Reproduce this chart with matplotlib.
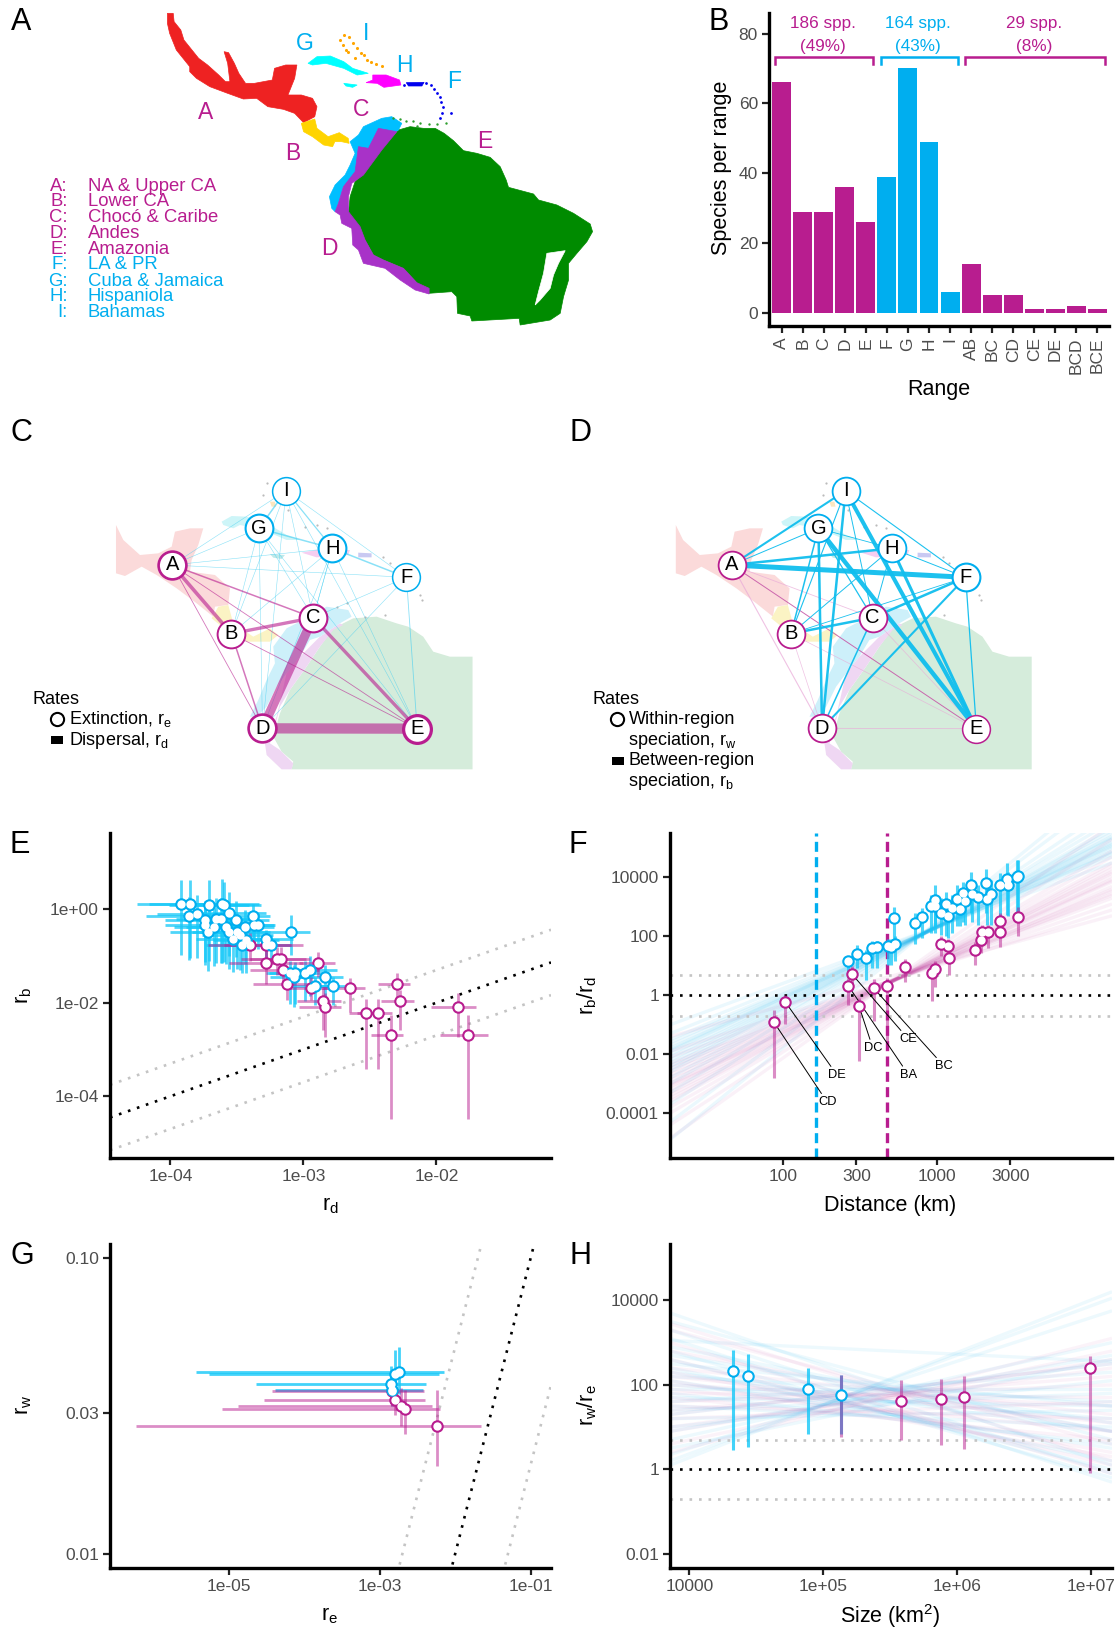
import numpy as np
import matplotlib
matplotlib.use('Agg')
import matplotlib.pyplot as plt
from matplotlib.patches import Polygon, Rectangle
from matplotlib.ticker import NullLocator

plt.rcParams['font.family'] = ['Liberation Sans', 'DejaVu Sans']
plt.rcParams['mathtext.fontset'] = 'custom'
plt.rcParams['mathtext.rm'] = 'Liberation Sans'
plt.rcParams['mathtext.it'] = 'Liberation Sans:italic'
plt.rcParams['mathtext.default'] = 'rm'

W, H = 1119, 1628
MAG = '#B81D8F'
BLU = '#00AEEF'
ERR_BLU = '#14C8F8'
TICK = '#4D4D4D'
GREY = '#C4C4C4'
DOTTED = (0, (1, 2.6))

# ---- panel A: region legend
region_keys = ['A:', 'B:', 'C:', 'D:', 'E:', 'F:', 'G:', 'H:', 'I:']
region_names = ['NA & Upper CA', 'Lower CA', 'Chocó & Caribe', 'Andes', 'Amazonia',
                'LA & PR', 'Cuba & Jamaica', 'Hispaniola', 'Bahamas']

# ---- panel A: map outlines (picture units)
map_red = [(375,40),(388,40),(390,65),(405,90),(412,120),(430,150),(445,175),(465,195),(490,225),(505,245),
           (515,245),(510,190),(502,155),(512,158),(525,190),(535,220),(550,250),(570,250),(610,240),(615,205),
           (640,195),(665,195),(660,235),(645,285),(675,285),(700,295),(710,320),(705,350),(680,368),(660,340),
           (635,328),(600,320),(575,295),(545,297),(510,280),(470,260),(440,235),(425,215),(425,200),(395,150),
           (380,100),(375,70)]
map_yellow = [(675,370),(705,357),(710,385),(735,410),(760,398),(780,415),(782,430),(765,425),(750,425),
              (745,440),(725,435),(700,410),(680,395)]
map_cuba = [(690,190),(710,170),(740,168),(770,185),(790,205),(825,220),(800,225),(770,205),(730,190),(700,195)]
map_jamaica = [(770,250),(800,255),(790,262),(775,258)]
map_hisp = [(820,248),(835,240),(835,225),(865,225),(895,240),(898,255),(860,262),(845,250)]
map_pr = [(910,248),(950,247),(945,258),(915,258)]
map_bahamas_x = [770,762,768,775,782,790,800,808,815,822,830,842,855,780,795]
map_bahamas_y = [105,120,135,150,110,130,145,158,165,180,185,192,198,155,175]
map_antilles_x = [965,972,980,985,988,992,990,985,1010,905,955]
map_antilles_y = [255,268,280,290,305,320,340,355,340,255,250]
map_coast_x = [880,895,910,925,940,960,980,998,935]
map_coast_y = [355,358,362,362,368,372,372,370,378]

sa_green = [(235,90),(270,80),(310,85),(345,85),(372,100),(400,122),(430,152),(470,160),(510,172),(540,200),
            (558,240),(565,262),(640,282),(655,300),(710,315),(760,340),(810,372),(817,395),(800,425),(770,460),
            (745,490),(745,540),(730,590),(720,640),(690,660),(600,675),(597,655),(455,663),(450,648),(412,640),
            (410,590),(395,575),(325,580),(290,548),(250,505),(190,480),(160,465),(135,420),(120,385),(85,340),
            (90,290),(105,245),(150,190),(190,140)]
sa_purple = [(230,95),(185,150),(130,225),(95,250),(85,290),(85,335),(120,380),(135,420),(160,465),(190,480),
             (250,505),(290,548),(327,565),(327,582),(285,570),(240,540),(195,505),(130,490),(115,450),(98,435),
             (95,385),(65,370),(60,345),(45,335),(55,310),(70,260),(105,215),(115,140),(145,145),(175,85)]
sa_blue = [(90,125),(115,105),(130,80),(185,55),(215,50),(245,70),(235,90),(175,130),(150,170),(130,205),
           (100,235),(70,260),(55,310),(45,335),(35,325),(28,290),(45,255),(75,225),(90,195),(105,160)]
sa_hole = [(680,460),(735,452),(715,490),(700,525),(690,565),(660,600),(645,615),(655,575),(670,520)]

# ---- panel B
range_names = ['A', 'B', 'C', 'D', 'E', 'F', 'G', 'H', 'I', 'AB', 'BC', 'CD', 'CE', 'DE', 'BCD', 'BCE']
species_per_range = [66, 29, 29, 36, 26, 39, 70, 49, 6, 14, 5, 5, 1, 1, 2, 1]
range_is_blue = [0, 0, 0, 0, 0, 1, 1, 1, 1, 0, 0, 0, 0, 0, 0, 0]
group_counts = ['186 spp.', '164 spp.', '29 spp.']
group_shares = ['(49%)', '(43%)', '(8%)']

# ---- panels C, D: network
node_names = ['A', 'B', 'C', 'D', 'E', 'F', 'G', 'H', 'I']
node_x = [482, 648, 877, 735, 1168, 1138, 725, 931, 801]
node_y = [315, 521, 473, 805, 806, 352, 205, 265, 92]
node_colour_c = [MAG, MAG, MAG, MAG, MAG, BLU, BLU, BLU, BLU]
node_border_c = [1.9, 1.4, 1.5, 1.9, 2.3, 1.1, 1.5, 1.5, 1.1]
node_colour_d = [MAG, MAG, MAG, MAG, MAG, BLU, BLU, BLU, BLU]
node_border_d = [1.3, 1.3, 1.3, 1.3, 1.1, 1.5, 1.3, 1.3, 1.3]
edges_c_mag = [('D','E',7.4),('C','D',6.6),('A','B',2.6),('B','C',2.4),('C','E',2.4),('A','C',1.1),
               ('B','D',1.1),('A','D',0.6),('A','E',0.6),('B','E',0.6)]
edges_c_blu = [('G','I',1.1),('G','H',1.1),('H','I',0.9),('H','F',1.1),('A','I',0.4),('A','G',0.4),('A','H',0.4),
               ('A','F',0.4),('B','G',0.4),('B','I',0.4),('B','H',0.4),('C','F',0.4),('C','G',0.4),('C','H',0.4),
               ('C','I',0.4),('D','F',0.4),('D','G',0.4),('D','H',0.4),('D','I',0.4),('E','F',0.6),('E','G',0.4),
               ('E','H',0.4),('E','I',0.4),('F','I',0.4),('C','H',0.4)]
edges_d_mag = [('A','E',0.7)]
edges_d_pale = [('A','D',0.8),('A','C',0.6),('B','D',0.5),('D','E',0.6),('C','E',0.5),('B','E',0.5)]
edges_d_blu = [('A','F',3.6),('A','H',1.8),('A','I',1.5),('A','G',0.7),('E','I',2.9),('E','G',3.2),('E','H',2.2),
               ('D','I',1.8),('D','G',1.8),('B','G',1.1),('B','I',0.8),('B','C',1.8),('C','F',1.8),('B','H',0.7),
               ('D','F',1.5),('C','D',1.1),('E','F',0.9),('F','I',0.8),('C','G',0.9),('C','I',0.7),('C','H',0.7),
               ('F','H',0.7),('G','H',0.6),('B','F',0.6)]

bg_pink = [(48,195),(70,240),(120,285),(175,280),(215,260),(225,215),(270,205),(310,205),(295,255),(275,300),
           (270,335),(345,345),(390,385),(385,435),(345,440),(340,470),(290,430),(230,385),(170,345),(125,320),
           (75,348),(48,340)]
bg_yellow = [(335,475),(355,440),(385,435),(400,490),(460,530),(510,505),(535,525),(510,545),(440,545),(420,520),(360,495)]
bg_blue = [(520,560),(560,505),(610,480),(680,440),(745,450),(755,470),(720,490),(660,530),(630,540),(600,590),
           (560,640),(530,680),(500,740),(470,770),(450,770),(475,720),(500,660),(525,610)]
bg_purple = [(660,530),(720,490),(730,495),(700,510),(660,560),(620,620),(570,690),(540,740),(525,800),(510,850),
             (540,870),(580,910),(575,928),(545,928),(500,885),(495,850),(530,770),(560,640),(600,590)]
bg_green = [(700,505),(760,475),(830,470),(890,490),(925,500),(970,530),(1000,575),(1050,590),(1118,590),(1118,928),
            (575,928),(580,905),(545,875),(520,830),(540,760),(570,690),(620,620),(660,560)]
bg_cuba = [(365,185),(395,168),(440,170),(510,195),(560,225),(600,240),(560,240),(525,225),(470,205),(420,195),(400,205),(370,195)]
bg_jamaica = [(510,282),(555,285),(545,297),(520,293)]
bg_hisp = [(605,278),(650,270),(750,270),(745,285),(650,292)]
bg_pr = [(775,278),(815,280),(815,292),(775,292)]
bg_baha = [(510,125),(525,125),(528,140),(515,140)]
bg_specks_x = [500,490,565,615,650,680,850,870,905,960,965,855,795,710,740]
bg_specks_y = [70,105,150,200,195,205,290,310,345,405,420,465,470,440,430]

# ---- panel E (log10 rates)
e_mag_x = [-3.40,-3.28,-3.28,-3.20,-3.165,-3.15,-3.12,-2.89,-2.945,-2.85,-2.84,-2.65,-2.53,-2.44,-2.34,-2.295,-2.27,-1.84,-1.765]
e_mag_y = [-0.76,-0.76,-1.16,-1.07,-1.07,-1.30,-1.60,-1.16,-1.69,-1.96,-2.09,-1.69,-2.21,-2.21,-2.70,-1.60,-1.96,-2.09,-2.70]
e_mag_xlo = [-3.72,-3.60,-3.56,-3.47,-3.40,-3.40,-3.38,-3.03,-3.13,-3.05,-3.03,-2.86,-2.66,-2.60,-2.49,-2.44,-2.42,-2.04,-1.97]
e_mag_xhi = [-3.09,-3.00,-3.00,-2.98,-2.95,-2.88,-2.87,-2.76,-2.76,-2.72,-2.72,-2.54,-2.39,-2.33,-2.25,-2.20,-2.17,-1.70,-1.61]
e_mag_ylo = [-1.10,-1.20,-1.60,-1.40,-1.40,-1.60,-1.94,-1.44,-1.94,-2.59,-2.73,-2.19,-3.41,-3.41,-4.48,-1.98,-2.59,-2.73,-4.48]
e_mag_yhi = [-0.50,-0.50,-0.80,-0.80,-0.80,-1.10,-1.30,-0.91,-1.44,-1.69,-1.80,-1.48,-1.91,-1.91,-2.26,-1.37,-1.73,-1.80,-2.26]

e_blu_x = [-3.92,-3.85,-3.86,-3.80,-3.71,-3.61,-3.60,-3.74,-3.74,-3.72,-3.66,-3.62,-3.67,-3.56,-3.51,-3.58,-3.56,-3.53,-3.50,
           -3.48,-3.44,-3.43,-3.46,-3.38,-3.37,-3.34,-3.28,-3.24,-3.09,-3.10,-3.06,-3.07,-2.99,-2.95,-2.91,-2.84,-2.78]
e_blu_y = [0.11,0.11,-0.14,-0.10,0.10,0.11,0.08,-0.23,-0.34,-0.48,-0.21,-0.21,-0.37,-0.09,-0.23,-0.37,-0.48,-0.64,-0.48,
           -0.55,-0.37,-0.66,-0.76,-0.14,-0.34,-0.34,-0.64,-0.76,-0.48,-1.36,-1.37,-1.44,-1.36,-1.31,-1.64,-1.44,-1.64]
e_blu_xminus = [.33,.31,.32,.30,.30,.30,.28,.30,.30,.28,.30,.28,.30,.28,.30,.30,.28,.28,.28,
                .28,.25,.25,.27,.25,.25,.23,.20,.20,.20,.18,.20,.18,.20,.20,.20,.20,.18]
e_blu_xplus = [.30,.30,.28,.28,.30,.28,.28,.28,.25,.28,.28,.28,.25,.28,.25,.25,.28,.25,.25,
               .25,.22,.25,.25,.13,.15,.13,.20,.15,.14,.18,.15,.15,.18,.20,.18,.14,.12]
e_blu_yminus = [1.09,1.15,.95,.95,1.2,1.25,1.2,.9,.85,.85,.95,.95,.85,.9,.8,.8,.8,.7,.8,
                .75,.8,.7,.6,.6,.5,.5,.45,.4,.5,.66,.65,.65,.6,.55,.4,.6,.4]
e_blu_yplus = [.52,.52,.4,.4,.52,.53,.5,.4,.4,.4,.45,.45,.4,.45,.4,.4,.4,.35,.4,
               .35,.35,.3,.3,.25,.25,.25,.2,.2,.35,.25,.25,.25,.25,.3,.2,.25,.2]

# ---- panel F (log10)
f_mag_x = [1.94,2.016,2.425,2.45,2.494,2.59,2.675,2.79,2.97,2.99,3.03,3.075,3.08,3.245,3.285,3.295,3.33,3.41,3.41,3.53]
f_mag_y = [-0.90,-0.23,0.32,0.71,-0.36,0.24,0.33,0.97,0.76,0.90,1.74,1.67,1.27,1.54,1.89,2.14,2.16,2.54,2.15,2.67]
f_mag_lo = [-2.80,-0.96,-0.32,0.30,-2.24,-0.88,-1.56,0.47,-0.20,0.30,1.32,1.27,0.70,1.04,1.43,1.66,1.60,2.11,1.63,2.00]
f_mag_hi = [-0.51,0.00,0.60,1.00,-0.10,0.55,0.60,1.25,1.00,1.15,2.00,1.90,1.55,1.80,2.10,2.40,2.40,2.80,2.40,3.00]
f_blu_x = [2.425,2.48,2.54,2.58,2.61,2.685,2.70,2.73,2.72,2.856,2.905,2.965,2.99,2.99,3.03,3.06,3.07,3.10,3.13,3.15,
           3.17,3.185,3.22,3.23,3.27,3.32,3.325,3.35,3.41,3.455,3.46,3.52,3.53]
f_blu_y = [1.15,1.40,1.28,1.62,1.63,1.68,1.64,1.75,2.62,2.47,2.66,3.04,3.24,3.04,2.81,3.11,2.68,2.96,3.28,2.93,
           3.47,3.21,3.73,3.45,3.33,3.83,3.27,3.45,3.73,3.95,3.73,4.03,4.05]
f_blu_lo = [0.64,0.93,0.53,0.93,0.93,1.04,1.04,1.15,1.91,1.75,1.94,2.11,2.34,2.11,2.06,2.00,1.94,2.11,2.34,2.34,
            2.50,2.40,2.80,2.50,2.40,2.80,2.40,2.40,2.68,2.73,2.68,2.56,2.56]
f_blu_hi = [1.35,1.70,1.55,1.85,1.85,1.90,1.90,2.00,3.00,2.80,2.95,3.40,3.75,3.40,3.30,3.50,3.20,3.40,3.75,3.40,
            3.85,3.60,4.20,3.90,3.75,4.30,3.70,3.90,4.15,4.50,4.20,4.60,4.60]
f_blu_left = [-1.0,-1.3,-1.5,-1.6,-1.7,-1.8,-1.85,-1.9,-2.0,-2.1,-2.2,-2.3,-2.4,-2.5,-2.6,-2.8,-3.0,-3.3,-3.7,-4.3,-4.9]
f_blu_right = [4.5,4.7,4.8,4.85,4.9,5.0,5.05,5.1,5.15,5.2,5.3,5.35,5.4,5.5,5.6,5.7,5.9,6.1,6.4,6.9,7.3]
f_mag_left = [-1.4,-1.9,-2.1,-2.3,-2.4,-2.5,-2.6,-2.7,-2.8,-2.9,-3.0,-3.05,-3.1,-3.2,-3.3,-3.4,-3.5,-3.6,-3.8,-4.0,-4.4,-4.85]
f_mag_right = [2.7,2.9,3.1,3.3,3.4,3.45,3.55,3.6,3.7,3.85,3.9,3.95,4.05,4.15,4.2,4.3,4.4,4.5,4.7,4.9,5.3,5.8]
f_pair_names = ['CD', 'DE', 'DC', 'BA', 'CE', 'BC']
f_pair_x = [1.94, 2.016, 2.494, 2.425, 2.45, 2.59]
f_pair_y = [-0.90, -0.23, -0.36, 0.32, 0.71, 0.24]
f_pair_label_x = [2.288, 2.352, 2.584, 2.816, 2.816, 3.048]
f_pair_label_y = [-3.63, -2.71, -1.79, -2.70, -1.49, -2.41]
f_dist_blue = 164
f_dist_mag = 475

# ---- panel G (log10)
g_blu_x = [-2.74,-2.79,-2.85,-2.84]
g_blu_y = [-1.384,-1.39,-1.425,-1.444]
g_blu_xlo = [-5.43,-5.26,-4.64,-4.39]
g_blu_xhi = [-2.15,-2.21,-2.385,-2.42]
g_blu_ylo = [-1.46,-1.48,-1.49,-1.50]
g_blu_yhi = [-1.30,-1.31,-1.365,-1.39]
g_mag_x = [-2.84,-2.79,-2.71,-2.66,-2.24]
g_mag_y = [-1.448,-1.478,-1.498,-1.51,-1.568]
g_mag_xlo = [-4.42,-4.53,-4.88,-5.09,-6.22]
g_mag_xhi = [-2.41,-2.40,-2.30,-2.20,-1.66]
g_mag_ylo = [-1.50,-1.53,-1.568,-1.593,-1.703]
g_mag_yhi = [-1.42,-1.44,-1.44,-1.444,-1.446]

# ---- panel H (log10)
h_blu_x = [4.33,4.44,4.885,5.136]
h_blu_y = [2.32,2.22,1.90,1.76]
h_blu_lo = [0.45,0.53,0.84,0.84]
h_blu_hi = [2.82,2.74,2.41,2.23]
h_mag_x = [5.136,5.584,5.88,6.05,6.99]
h_mag_y = [1.76,1.63,1.665,1.72,2.41]
h_mag_lo = [0.76,0.69,0.57,0.49,-0.09]
h_mag_hi = [2.23,2.12,2.14,2.22,2.69]
h_blu_left = [3.7,3.5,3.3,3.1,3.05,2.9,2.8,2.7,2.6,2.5,2.4,2.3,2.2,2.1,2.0,1.9,1.8,1.7,1.6,1.5,1.4,1.3,1.2,1.0,0.9,0.7,0.5,0.1,0.2,0.35]
h_blu_right = [0.1,0.7,-0.1,-0.3,2.55,0.9,-0.2,1.1,0.0,1.5,0.2,0.9,1.6,0.5,1.2,1.9,0.6,1.5,2.3,1.0,1.8,2.5,1.4,2.1,2.7,3.0,2.6,4.2,4.05,3.75]
h_mag_left = [3.45,3.3,3.0,2.8,2.6,2.4,2.3,2.2,2.1,2.0,1.9,1.8,1.7,1.6,1.5,1.4,1.3,1.2,1.0,0.9,0.6,0.4]
h_mag_right = [0.2,0.6,-0.1,0.9,0.1,1.3,0.4,1.1,0.3,1.5,0.9,1.7,0.7,2.0,1.2,2.2,2.5,1.6,2.4,2.6,2.8,3.1]

fig = plt.figure(figsize=(W / 100, H / 100), dpi=100)


def axes_px(x0, y0, x1, y1):
    return fig.add_axes([x0 / W, 1 - y1 / H, (x1 - x0) / W, (y1 - y0) / H])


def put(x, y, s, **kw):
    kw.setdefault('ha', 'center')
    kw.setdefault('va', 'center')
    fig.text(x / W, 1 - y / H, s, **kw)


def style_axes(ax):
    ax.spines[['top', 'right']].set_visible(False)
    ax.spines[['left', 'bottom']].set_linewidth(2.4)
    ax.tick_params(length=5, width=1.6, color='#222222', labelcolor=TICK, labelsize=12.5, pad=3)
    ax.xaxis.set_minor_locator(NullLocator())
    ax.yaxis.set_minor_locator(NullLocator())


def log_axes(box, xlim, ylim, xticks, xlabels, yticks, ylabels):
    ax = axes_px(*box)
    ax.set_xscale('log')
    ax.set_yscale('log')
    ax.set_xlim(10.0 ** xlim[0], 10.0 ** xlim[1])
    ax.set_ylim(10.0 ** ylim[0], 10.0 ** ylim[1])
    ax.set_xticks(xticks, xlabels)
    ax.set_yticks(yticks, ylabels)
    style_axes(ax)
    return ax


def bars(ax, x, y, xlo, xhi, ylo, yhi, colour, lw=2.0, alpha=0.5):
    x, y = 10.0 ** np.array(x), 10.0 ** np.array(y)
    if ylo is not None:
        ax.vlines(x, 10.0 ** np.array(ylo), 10.0 ** np.array(yhi), color=colour, lw=lw, alpha=alpha, zorder=3)
    if xlo is not None:
        ax.hlines(y, 10.0 ** np.array(xlo), 10.0 ** np.array(xhi), color=colour, lw=lw, alpha=alpha, zorder=3)


def dots(ax, groups):
    # rings first, white centres after, so that overlapping points merge
    for x, y, colour in groups:
        ax.plot(10.0 ** np.array(x), 10.0 ** np.array(y), 'o', ms=9.0, mfc=colour, mec='none', ls='none', zorder=6)
    for x, y, colour in groups:
        ax.plot(10.0 ** np.array(x), 10.0 ** np.array(y), 'o', ms=6.0, mfc='white', mec='none', ls='none', zorder=7)


def ratio_lines(ax):
    ax.axhline(1, color='black', lw=1.9, ls=DOTTED, zorder=2)
    ax.axhline(5, color=GREY, lw=1.9, ls=DOTTED, zorder=2)
    ax.axhline(0.2, color=GREY, lw=1.9, ls=DOTTED, zorder=2)


def diagonal_lines(ax, x0, x1):
    xs = np.array([10.0 ** x0, 10.0 ** x1])
    ax.plot(xs, xs, color='black', lw=1.9, ls=DOTTED, zorder=2)
    ax.plot(xs, xs * 5, color=GREY, lw=1.9, ls=DOTTED, zorder=2)
    ax.plot(xs, xs / 5, color=GREY, lw=1.9, ls=DOTTED, zorder=2)


def fan(ax, xlim, left, right, colour, alpha=0.09):
    xs = [10.0 ** xlim[0], 10.0 ** xlim[1]]
    for a, b in zip(left, right):
        ax.plot(xs, [10.0 ** a, 10.0 ** b], color=colour, lw=2.4, alpha=alpha, zorder=1, solid_capstyle='butt')


def from_crop(pts, sx, dx, dy):
    return np.array(pts) * [sx, 1.0] + [dx, dy]


# ---- A: map
ax = axes_px(0, 0, 700, 350)
ax.set_xlim(0, 1568)
ax.set_ylim(1050, 0)
ax.axis('off')
for pts, col in [(map_red, '#EE2222'), (map_yellow, '#FFD400'),
                 (from_crop(sa_green, 0.747, 717, 300), '#008B00'), (from_crop(sa_blue, 0.747, 717, 300), '#00BFFF'),
                 (from_crop(sa_purple, 0.747, 717, 300), '#A832C8'), (from_crop(sa_hole, 0.747, 717, 300), 'white'),
                 (map_cuba, '#00FFFF'), (map_jamaica, '#00FFFF'), (map_hisp, '#FF00FF'), (map_pr, '#0000EE')]:
    ax.add_patch(Polygon(pts, closed=True, fc=col, ec=col, lw=0.5))
ax.scatter(map_bahamas_x, map_bahamas_y, s=5, color='#FFA500', lw=0)
ax.scatter(map_antilles_x, map_antilles_y, s=4, color='#0000EE', lw=0)
ax.scatter(map_coast_x, map_coast_y, s=3, color='#2E9E2E', lw=0)

map_labels = [('A', 460, 338, MAG), ('B', 655, 462, MAG), ('C', 808, 328, MAG), ('D', 738, 745, MAG),
              ('E', 1086, 425, MAG), ('G', 682, 132, BLU), ('I', 820, 102, BLU), ('H', 905, 195, BLU),
              ('F', 1017, 243, BLU)]
for s, x, y, col in map_labels:
    ax.text(x, y, s, color=col, fontsize=16.5, ha='center', va='center')
legend_rows = [560, 606, 653, 701, 750, 793, 843, 890, 938]
for i, (k, n, y) in enumerate(zip(region_keys, region_names, legend_rows)):
    col = MAG if i < 5 else BLU
    ax.text(152, y, k, color=col, fontsize=13.3, ha='right', va='center')
    ax.text(196, y, n, color=col, fontsize=13.3, ha='left', va='center')

# ---- B: bars
ax = axes_px(769, 13, 1109, 326)
pos = np.arange(1, len(range_names) + 1)
ax.bar(pos, species_per_range, width=0.9, color=[BLU if b else MAG for b in range_is_blue])
ax.set_xlim(0.4, 16.55)
ax.set_ylim(-3.8, 85.9)
ax.set_xticks(pos, range_names, rotation=90)
ax.set_yticks([0, 20, 40, 60, 80])
style_axes(ax)
for lo, hi, col, c, s in zip([0.67, 5.7, 9.7], [5.33, 9.38, 16.36], [MAG, BLU, MAG], group_counts, group_shares):
    ax.plot([lo, lo, hi, hi], [71.2, 73.2, 73.2, 71.2], color=col, lw=1.8, solid_joinstyle='miter', clip_on=False)
    ax.text((lo + hi) / 2 - 0.05, 82.9, c, color=col, fontsize=12.3, ha='center', va='center')
    ax.text((lo + hi) / 2 - 0.05, 76.4, s, color=col, fontsize=12.3, ha='center', va='center')
put(721, 168, 'Species per range', fontsize=15.5, rotation=90)
put(939, 390, 'Range', fontsize=15.5)


# ---- C, D: networks
def network(box, edge_sets, node_colour, node_border):
    ax = axes_px(*box)
    ax.set_xlim(0, 1568)
    ax.set_ylim(1020, 0)
    ax.axis('off')
    for pts, col in [(bg_pink, '#FBDADA'), (bg_yellow, '#FBF3C4'), (bg_green, '#D5ECDB'), (bg_purple, '#EFD7F3'),
                     (bg_blue, '#CDF0FA'), (bg_cuba, '#CDF5F8'), (bg_jamaica, '#BFE9E9'), (bg_hisp, '#F6CDF0'),
                     (bg_pr, '#C9C9F2'), (bg_baha, '#FBE6BF')]:
        ax.add_patch(Polygon(from_crop(pts, 0.933, 280, 0), closed=True, fc=col, ec='none', zorder=1))
    ax.scatter(from_crop(np.column_stack([bg_specks_x, bg_specks_y]), 0.933, 280, 0)[:, 0], bg_specks_y,
               s=2.5, color='#BBBBBB', lw=0, zorder=1)
    where = dict(zip(node_names, zip(node_x, node_y)))
    for edges, col, alpha in edge_sets:
        for a, b, w in edges:
            ax.plot([where[a][0], where[b][0]], [where[a][1], where[b][1]], color=col, lw=w, alpha=alpha,
                    solid_capstyle='butt', zorder=2)
    for n, x, y, c, b in zip(node_names, node_x, node_y, node_colour, node_border):
        ax.plot([x], [y], 'o', ms=20, mfc='white', mec=c, mew=b, zorder=4)
        ax.text(x, y, n, fontsize=14.5, ha='center', va='center', zorder=5)
    return ax


ax = network((0, 460, 560, 800), [(edges_c_blu, '#3CCDF2', 0.6), (edges_c_mag, MAG, 0.6)], node_colour_c, node_border_c)
ax.text(90, 720, 'Rates', fontsize=13, va='center')
ax.plot([160], [778], 'o', ms=9.5, mfc='white', mec='black', mew=1.5)
ax.add_patch(Rectangle((143, 828), 34, 24, fc='black', ec='none'))
ax.text(192, 778, 'Extinction, r$_e$', fontsize=13, va='center')
ax.text(192, 841, 'Dispersal, r$_d$', fontsize=13, va='center')

ax = network((560, 460, 1119, 800), [(edges_d_pale, '#E9A9D8', 0.7), (edges_d_mag, '#C75AA8', 0.9), (edges_d_blu, '#10BEEE', 0.95)],
             node_colour_d, node_border_d)
ax.text(90, 720, 'Rates', fontsize=13, va='center')
ax.plot([160], [778], 'o', ms=9.5, mfc='white', mec='black', mew=1.5)
ax.add_patch(Rectangle((146, 890), 34, 24, fc='black', ec='none'))
ax.text(192, 778, 'Within-region', fontsize=13, va='center')
ax.text(192, 841, 'speciation, r$_w$', fontsize=13, va='center')
ax.text(192, 901, 'Between-region', fontsize=13, va='center')
ax.text(192, 963, 'speciation, r$_b$', fontsize=13, va='center')

# ---- E
ax = log_axes((110, 833, 551, 1158), (-4.454, -1.138), (-5.32, 1.63),
              [1e-4, 1e-3, 1e-2], ['1e-04', '1e-03', '1e-02'], [1e-4, 1e-2, 1], ['1e-04', '1e-02', '1e+00'])
diagonal_lines(ax, -4.454, -1.138)
ex, ey = np.array(e_blu_x), np.array(e_blu_y)
bars(ax, ex, ey, ex - np.array(e_blu_xminus), ex + np.array(e_blu_xplus),
     ey - np.array(e_blu_yminus), ey + np.array(e_blu_yplus), ERR_BLU, lw=2.0, alpha=0.75)
bars(ax, e_mag_x, e_mag_y, e_mag_xlo, e_mag_xhi, e_mag_ylo, e_mag_yhi, MAG)
dots(ax, [(e_mag_x, e_mag_y, MAG), (e_blu_x, e_blu_y, BLU)])
put(330, 1205, 'r$_d$', fontsize=15.5)
put(23, 995, 'r$_b$', fontsize=15.5, rotation=90)

# ---- F
flim = (1.266, 4.138)
ax = log_axes((670, 833, 1112, 1158), flim, (-5.52, 5.51),
              [100, 300, 1000, 3000], ['100', '300', '1000', '3000'],
              [1e-4, 1e-2, 1, 100, 1e4], ['0.0001', '0.01', '1', '100', '10000'])
fan(ax, flim, f_blu_left, f_blu_right, BLU, alpha=0.08)
fan(ax, flim, f_mag_left, f_mag_right, MAG, alpha=0.06)
ratio_lines(ax)
ax.axvline(f_dist_blue, color=BLU, lw=2.4, ls=(0, (3, 1.6)), zorder=2)
ax.axvline(f_dist_mag, color=MAG, lw=2.4, ls=(0, (3, 1.6)), zorder=2)
bars(ax, f_blu_x, f_blu_y, None, None, f_blu_lo, f_blu_hi, ERR_BLU, lw=2.2, alpha=0.75)
bars(ax, f_mag_x, f_mag_y, None, None, f_mag_lo, f_mag_hi, MAG, lw=2.2)
for n, px_, py_, lx, ly in zip(f_pair_names, f_pair_x, f_pair_y, f_pair_label_x, f_pair_label_y):
    ax.annotate(n, xy=(10.0 ** px_, 10.0 ** py_), xytext=(10.0 ** lx, 10.0 ** ly), fontsize=9.3, ha='center',
                va='center', zorder=5, arrowprops=dict(arrowstyle='-', lw=0.7, color='black', shrinkA=0, shrinkB=4))
dots(ax, [(f_mag_x, f_mag_y, MAG), (f_blu_x, f_blu_y, BLU)])
put(890, 1205, 'Distance (km)', fontsize=15.5)
put(587, 995, 'r$_b$/r$_d$', fontsize=15.5, rotation=90)

# ---- G
ax = log_axes((110, 1244, 551, 1568), (-6.57, -0.73), (-2.047, -0.952),
              [1e-5, 1e-3, 1e-1], ['1e-05', '1e-03', '1e-01'], [0.01, 0.03, 0.1], ['0.01', '0.03', '0.10'])
diagonal_lines(ax, -6.57, -0.73)
bars(ax, g_blu_x, g_blu_y, g_blu_xlo, g_blu_xhi, g_blu_ylo, g_blu_yhi, ERR_BLU, alpha=0.8)
bars(ax, g_mag_x, g_mag_y, g_mag_xlo, g_mag_xhi, g_mag_ylo, g_mag_yhi, MAG)
dots(ax, [(g_mag_x, g_mag_y, MAG), (g_blu_x, g_blu_y, BLU)])
put(330, 1616, 'r$_e$', fontsize=15.5)
put(23, 1405, 'r$_w$', fontsize=15.5, rotation=90)

# ---- H
hlim = (3.856, 7.157)
ax = log_axes((670, 1244, 1112, 1568), hlim, (-2.33, 5.33),
              [1e4, 1e5, 1e6, 1e7], ['10000', '1e+05', '1e+06', '1e+07'],
              [0.01, 1, 100, 1e4], ['0.01', '1', '100', '10000'])
fan(ax, hlim, h_blu_left, h_blu_right, BLU, alpha=0.07)
fan(ax, hlim, h_mag_left, h_mag_right, MAG, alpha=0.05)
ratio_lines(ax)
bars(ax, h_blu_x, h_blu_y, None, None, h_blu_lo, h_blu_hi, ERR_BLU, lw=2.2, alpha=0.8)
bars(ax, h_mag_x, h_mag_y, None, None, h_mag_lo, h_mag_hi, MAG, lw=2.2)
dots(ax, [(h_mag_x[1:], h_mag_y[1:], MAG), (h_blu_x, h_blu_y, BLU)])
put(890, 1616, 'Size (km$^2$)', fontsize=15.5)
put(587, 1405, 'r$_w$/r$_e$', fontsize=15.5, rotation=90)

# ---- panel letters
for s, x, y in [('A', 21, 22), ('B', 719, 22), ('C', 21, 433), ('D', 580, 433), ('E', 20, 845), ('F', 578, 845),
                ('G', 22, 1256), ('H', 581, 1256)]:
    put(x, y, s, fontsize=22)

fig.savefig('out.png', dpi=100)
